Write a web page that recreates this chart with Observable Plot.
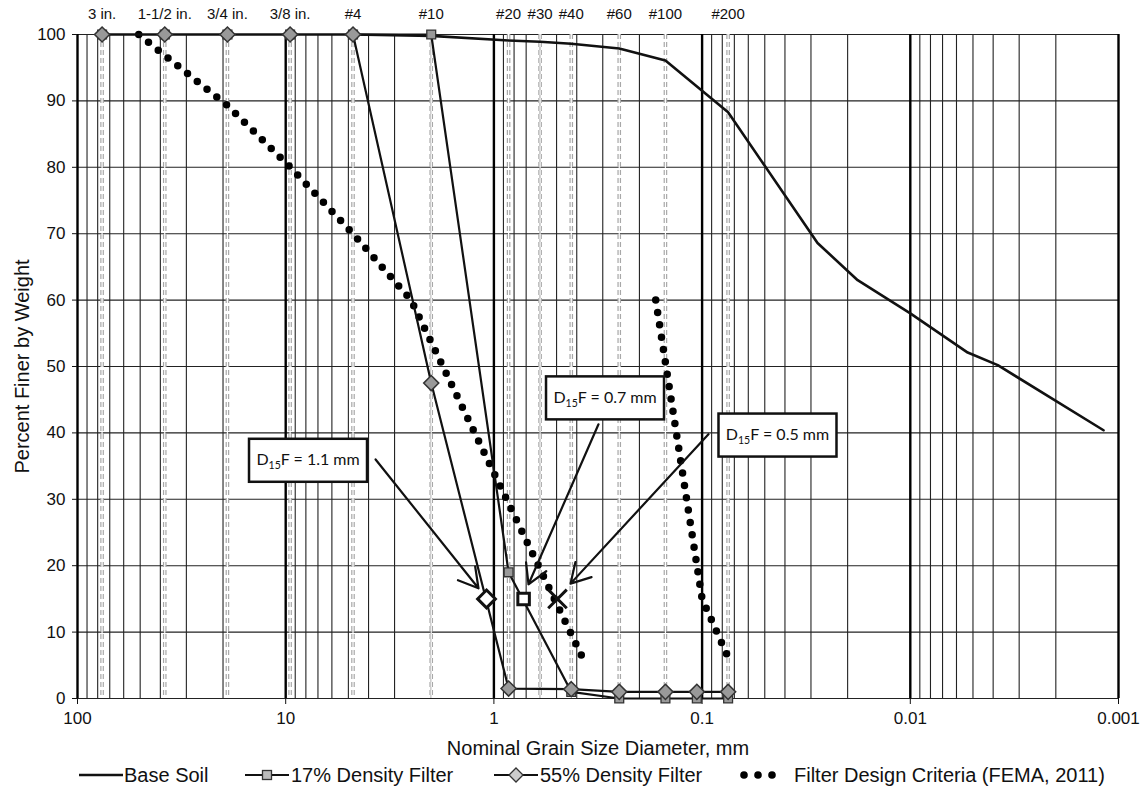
<!DOCTYPE html>
<html>
<head>
<meta charset="utf-8">
<script src="https://cdn.jsdelivr.net/npm/d3@7"></script>
<script src="https://cdn.jsdelivr.net/npm/@observablehq/plot@0.6"></script>
<style>
  html, body { margin: 0; padding: 0; background: #fff; }
  #wrap { position: relative; width: 1148px; height: 811px; background: #fff; font-family: 'Liberation Sans', Arial, sans-serif; }
  #legend { position: absolute; left: 0; top: 759px; width: 1148px; height: 32px; font-size: 20px; color: #111; }
  .item { position: absolute; top: 0; height: 32px; display: flex; align-items: center; white-space: nowrap; }
</style>
</head>
<body>
<div id="wrap"><div id="legend"></div></div>
<script>
// ---- Data ----
const sieveSizes  = [76.2, 38.1, 19.05, 9.525, 4.75, 2.0, 0.85, 0.6, 0.425, 0.25, 0.15, 0.075];
const sieveLabels = ["3 in.", "1-1/2 in.", "3/4 in.", "3/8 in.", "#4", "#10", "#20", "#30", "#40", "#60", "#100", "#200"];

const decadeTicks  = [100, 10, 1, 0.1, 0.01, 0.001];
const decadeLabels = ["100", "10", "1", "0.1", "0.01", "0.001"];
const yTicks = [0, 10, 20, 30, 40, 50, 60, 70, 80, 90, 100];

const baseD = [4.75, 2.0, 0.85, 0.6, 0.425, 0.25, 0.15, 0.075, 0.0279, 0.0179, 0.0100, 0.0053, 0.0038, 0.00118];
const baseP = [100, 99.8, 99.1, 98.9, 98.6, 97.9, 96.1, 88.3, 68.6, 63.0, 58.0, 52.1, 50.2, 40.4];

const filterD   = [76.2, 38.1, 19.05, 9.525, 4.75, 2.0, 0.85, 0.425, 0.25, 0.15, 0.106, 0.075];
const filter17P = [100, 100, 100, 100, 100, 100, 19, 1, 0, 0, 0, 0];
const filter55P = [100, 100, 100, 100, 100, 47.5, 1.5, 1.4, 1, 1, 1, 1];

const critLeftD  = [50.8, 19.05, 9.5, 4.75, 2.5, 0.38];
const critLeftP  = [100, 89.3, 80, 70, 60, 6.5];
const critRightD = [0.167, 0.1, 0.075];
const critRightP = [60, 15, 6.2];

const d15D = [1.085, 0.72, 0.495];
const d15P = [15, 15, 15];
const d15Symbol = ["diamond2", "square", "times"];
const d15Size = [8, 6.5, 8.5];

const annoText   = ["1.1 mm", "0.7 mm", "0.5 mm"];
const annoD      = [7.77, 0.291, 0.0432];
const annoP      = [35.8, 45.2, 39.6];
const arrowFromD = [3.70, 0.3145, 0.0932];
const arrowFromP = [36.0, 41.3, 39.8];
const arrowToD   = [1.186, 0.682, 0.4285];
const arrowToP   = [16.6, 17.2, 17.3];

// ---- Derived tables ----
const sieves = sieveSizes.map((d, i) => ({d, label: sieveLabels[i]}));
const baseData = baseD.map((d, i) => ({d, p: baseP[i]}));
const f17 = filterD.map((d, i) => ({d, p: filter17P[i]}));
const f55 = filterD.map((d, i) => ({d, p: filter55P[i]}));
const crit = [
  ...critLeftD.map((d, i) => ({d, p: critLeftP[i], b: "L"})),
  ...critRightD.map((d, i) => ({d, p: critRightP[i], b: "R"}))
];
const d15 = d15D.map((d, i) => ({d, p: d15P[i], s: d15Symbol[i], r: d15Size[i]}));
const annos = annoText.map((t, i) => ({t, d: annoD[i], p: annoP[i]}));
const arrows = arrowFromD.map((d, i) => ({fd: d, fp: arrowFromP[i], td: arrowToD[i], tp: arrowToP[i]}));

const minorGrid = [];
for (let e = -3; e < 2; e++) for (let k = 2; k <= 9; k++) minorGrid.push(k * Math.pow(10, e));

const decadeLabelMap = new Map(decadeTicks.map((s, i) => [s, decadeLabels[i]]));

function boxRender(index, scales, values) {
  const g = d3.create("svg:g");
  for (const i of index) {
    const cx = values.x[i], cy = values.y[i];
    g.append("rect").attr("x", cx - 59).attr("y", cy - 21.5).attr("width", 118).attr("height", 43)
      .attr("fill", "white").attr("stroke", "#111").attr("stroke-width", 2.5);
    const t = g.append("text").attr("x", cx).attr("y", cy + 5).attr("text-anchor", "middle")
      .attr("font-family", "Lato, 'Open Sans', sans-serif").attr("font-size", 16).attr("fill", "#111");
    t.append("tspan").text("D");
    t.append("tspan").attr("font-size", 10.5).attr("dy", 4).text("15");
    t.append("tspan").attr("dy", -4).text("F = " + annos[i].t);
  }
  return g.node();
}

const chart = Plot.plot({
  width: 1148, height: 760,
  marginLeft: 77, marginRight: 30, marginTop: 34, marginBottom: 62,
  style: {fontFamily: "'Liberation Sans', Arial, sans-serif", fontSize: "17px", color: "#111", background: "white"},
  x: {type: "log", domain: [100, 0.001], axis: null},
  y: {domain: [0, 100], axis: null},
  r: {type: "identity"},
  marks: [
    Plot.ruleX(minorGrid, {stroke: "#222", strokeWidth: 1.1}),
    Plot.ruleY(yTicks, {stroke: "#222", strokeWidth: 1.1}),
    Plot.ruleX(decadeTicks, {stroke: "#000", strokeWidth: 2.4}),
    Plot.ruleX(sieveSizes, {stroke: "#a8a8a8", strokeWidth: 3.6, strokeDasharray: "5,3"}),
    Plot.ruleX(sieveSizes, {stroke: "#fff", strokeWidth: 1.2}),
    Plot.axisX({ticks: decadeTicks, tickFormat: d => decadeLabelMap.get(d), anchor: "bottom", tickSize: 6, tickPadding: 7, label: null}),
    Plot.text(sieves, {x: "d", text: "label", frameAnchor: "top", lineAnchor: "middle", dy: -20, fontSize: 15}),
    Plot.axisY({ticks: yTicks, tickSize: 5, tickPadding: 7, label: null}),
    Plot.text(["Nominal Grain Size Diameter, mm"], {frameAnchor: "bottom", lineAnchor: "middle", textAnchor: "middle", dy: 50, fontSize: 20}),
    Plot.text(["Percent Finer by Weight"], {frameAnchor: "left", textAnchor: "middle", lineAnchor: "middle", dx: -55, rotate: -90, fontSize: 20}),
    Plot.line(baseData, {x: "d", y: "p", stroke: "#111", strokeWidth: 2.6}),
    Plot.line(crit, {x: "d", y: "p", z: "b", stroke: "#000", strokeWidth: 7.5, strokeDasharray: "0,12.5", strokeLinecap: "round"}),
    Plot.line(f17, {x: "d", y: "p", stroke: "#111", strokeWidth: 2.2}),
    Plot.line(f55, {x: "d", y: "p", stroke: "#111", strokeWidth: 2.2}),
    Plot.dot(f17, {x: "d", y: "p", symbol: "square", r: 5, fill: "#999", stroke: "#333", strokeWidth: 1.3}),
    Plot.dot(f55, {x: "d", y: "p", symbol: "diamond2", r: 6.8, fill: "#999", stroke: "#333", strokeWidth: 1.5}),
    Plot.dot(d15, {x: "d", y: "p", symbol: "s", r: "r", fill: d => d.s === "times" ? "none" : "white", stroke: "#111", strokeWidth: 3}),
    Plot.arrow(arrows, {x1: "fd", y1: "fp", x2: "td", y2: "tp", stroke: "#111", strokeWidth: 2.2, headLength: 15}),
    Plot.dot(annos, {x: "d", y: "p", render: boxRender})
  ]
});
document.getElementById("wrap").insertBefore(chart, document.getElementById("legend"));

// ---- Legend ----
const legendItems = [
  {label: "Base Soil", kind: "line", swatchX: 79, textX: 124},
  {label: "17% Density Filter", kind: "square", swatchX: 245, textX: 291},
  {label: "55% Density Filter", kind: "diamond", swatchX: 494, textX: 540},
  {label: "Filter Design Criteria (FEMA, 2011)", kind: "dots", swatchX: 739, textX: 794}
];
const leg = d3.select("#legend");
for (const it of legendItems) {
  const sw = leg.append("div").attr("class", "item").style("left", it.swatchX + "px");
  const svg = sw.append("svg").attr("width", 46).attr("height", 20);
  if (it.kind === "dots") {
    for (const cx of [5, 19, 33]) svg.append("circle").attr("cx", cx).attr("cy", 10).attr("r", 3.8).attr("fill", "#000");
  } else {
    svg.append("line").attr("x1", 0).attr("x2", 44).attr("y1", 10).attr("y2", 10).attr("stroke", "#111").attr("stroke-width", it.kind === "line" ? 2.6 : 2.2);
    if (it.kind === "square") svg.append("rect").attr("x", 17.5).attr("y", 5.5).attr("width", 9).attr("height", 9).attr("fill", "#bbb").attr("stroke", "#333").attr("stroke-width", 1.3);
    if (it.kind === "diamond") svg.append("path").attr("d", "M22,3 L29,10 L22,17 L15,10 Z").attr("fill", "#ccc").attr("stroke", "#333").attr("stroke-width", 1.3);
  }
  leg.append("div").attr("class", "item").style("left", it.textX + "px").text(it.label);
}
</script>
</body>
</html>
